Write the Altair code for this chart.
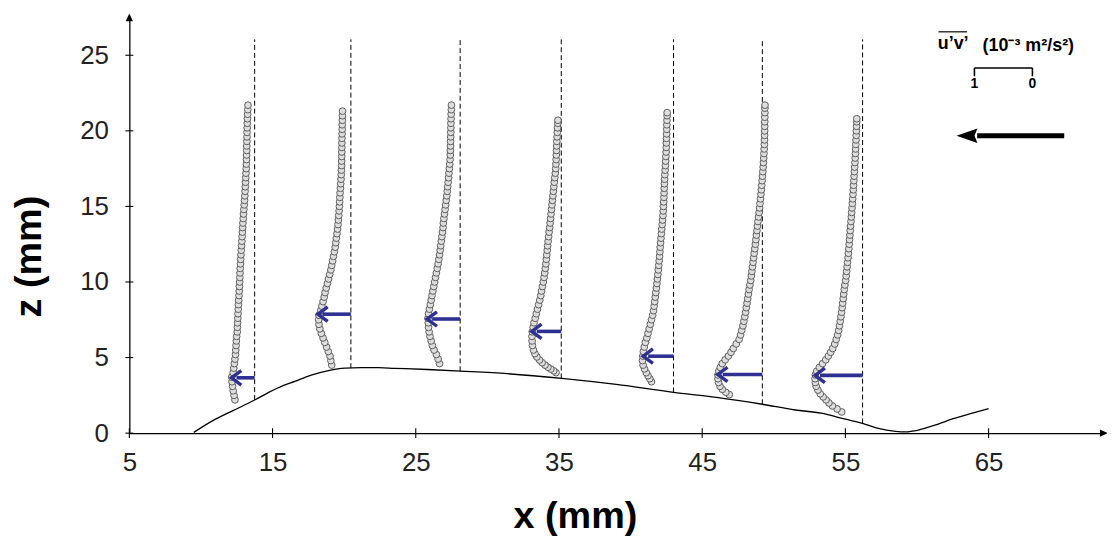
import altair as alt
import pandas as pd

# ---------------- data ----------------
STATIONS = [13.75, 20.47, 28.1, 35.16, 43.0, 49.2, 56.2]       # x of each profile (mm)
DASH_BOTTOM = [2.19, 4.30, 4.09, 3.62, 2.70, 1.91, 0.64]         # hill height at station (mm)
DASH_TOP = 26.05
SCALE = 4.05   # mm of x per 1e-3 m2/s2 of u'v'

# (z in mm, u'v' magnitude in 1e-3 m2/s2)
P1 = [(2.2,0.34),(2.5,0.355),(2.8,0.37),(3.1,0.38),(3.4,0.39),(3.7,0.395),(4.0,0.37),(4.3,0.36),
      (4.6,0.35),(4.9,0.34),(5.2,0.33),(5.5,0.325),(5.8,0.32),(6.1,0.315),(6.4,0.31),(6.7,0.30),
      (7.0,0.298),(7.3,0.295),(7.6,0.29),(7.9,0.287),(8.2,0.283),(8.5,0.28),(8.8,0.275),(9.1,0.27),
      (9.4,0.266),(9.7,0.262),(10.0,0.258),(10.3,0.255),(10.6,0.252),(10.9,0.249),(11.2,0.245),
      (11.5,0.241),(11.8,0.236),(12.1,0.231),(12.4,0.226),(12.7,0.221),(13.0,0.216),(13.3,0.211),
      (13.6,0.207),(13.9,0.202),(14.2,0.197),(14.5,0.192),(14.8,0.186),(15.1,0.18),(15.4,0.174),
      (15.7,0.169),(16.0,0.165),(16.3,0.161),(16.6,0.157),(16.9,0.153),(17.2,0.149),(17.5,0.145),
      (17.8,0.142),(18.1,0.140),(18.4,0.139),(18.7,0.137),(19.0,0.136),(19.3,0.134),(19.6,0.132),
      (19.9,0.131),(20.2,0.129),(20.5,0.127),(20.8,0.124),(21.1,0.121),(21.4,0.118),(21.7,0.115)]
P2 = [(4.5,0.33),(4.8,0.345),(5.1,0.36),(5.4,0.39),(5.7,0.42),(6.0,0.45),(6.3,0.48),(6.6,0.51),
      (6.9,0.535),(7.2,0.55),(7.5,0.555),(7.8,0.55),(8.1,0.52),(8.4,0.50),(8.7,0.48),(9.0,0.46),
      (9.3,0.445),(9.6,0.425),(9.9,0.405),(10.2,0.385),(10.5,0.365),(10.8,0.345),(11.1,0.33),
      (11.4,0.315),(11.7,0.30),(12.0,0.285),(12.3,0.27),(12.6,0.26),(12.9,0.25),(13.2,0.24),
      (13.5,0.23),(13.8,0.222),(14.1,0.215),(14.4,0.209),(14.7,0.203),(15.0,0.198),(15.3,0.194),
      (15.6,0.19),(15.9,0.186),(16.2,0.18),(16.5,0.175),(16.8,0.17),(17.1,0.166),(17.4,0.163),
      (17.7,0.16),(18.0,0.159),(18.3,0.158),(18.6,0.157),(18.9,0.156),(19.2,0.155),(19.5,0.154),
      (19.8,0.152),(20.1,0.15),(20.4,0.149),(20.7,0.147),(21.0,0.146),(21.3,0.144)]
P3 = [(4.6,0.355),(4.9,0.38),(5.2,0.41),(5.5,0.45),(5.8,0.48),(6.1,0.50),(6.4,0.52),(6.7,0.535),
      (7.0,0.545),(7.3,0.55),(7.6,0.555),(7.9,0.545),(8.2,0.53),(8.5,0.515),(8.8,0.50),(9.1,0.485),
      (9.4,0.47),(9.7,0.455),(10.0,0.44),(10.3,0.425),(10.6,0.41),(10.9,0.395),(11.2,0.38),
      (11.5,0.367),(11.8,0.355),(12.1,0.345),(12.4,0.335),(12.7,0.325),(13.0,0.315),(13.3,0.305),
      (13.6,0.295),(13.9,0.29),(14.2,0.28),(14.5,0.27),(14.8,0.26),(15.1,0.25),(15.4,0.24),
      (15.7,0.23),(16.0,0.222),(16.3,0.215),(16.6,0.207),(16.9,0.2),(17.2,0.193),(17.5,0.186),
      (17.8,0.18),(18.1,0.174),(18.4,0.17),(18.7,0.168),(19.0,0.166),(19.3,0.165),(19.6,0.163),
      (19.9,0.162),(20.2,0.16),(20.5,0.159),(20.8,0.157),(21.1,0.155),(21.4,0.152),(21.7,0.15)]
P4 = [(4.0,0.09),(4.12,0.13),(4.24,0.18),(4.36,0.23),(4.5,0.28),(4.66,0.33),(4.84,0.375),(5.04,0.42),
      (5.26,0.455),(5.5,0.48),(5.8,0.497),(6.1,0.503),(6.4,0.505),(6.7,0.50),(7.0,0.485),(7.3,0.47),
      (7.6,0.45),(7.9,0.43),(8.2,0.41),(8.5,0.39),(8.8,0.37),(9.1,0.353),(9.4,0.34),(9.7,0.325),
      (10.0,0.31),(10.3,0.297),(10.6,0.285),(10.9,0.275),(11.2,0.265),(11.5,0.257),(11.8,0.25),
      (12.1,0.242),(12.4,0.235),(12.7,0.227),(13.0,0.218),(13.3,0.21),(13.6,0.20),(13.9,0.192),
      (14.2,0.184),(14.5,0.176),(14.8,0.168),(15.1,0.16),(15.4,0.152),(15.7,0.144),(16.0,0.136),
      (16.3,0.128),(16.6,0.12),(16.9,0.112),(17.2,0.102),(17.5,0.096),(17.8,0.092),(18.1,0.088),
      (18.4,0.085),(18.7,0.082),(19.0,0.079),(19.3,0.076),(19.6,0.072),(19.9,0.068),(20.2,0.064),
      (20.5,0.06),(20.7,0.057)]
P5 = [(3.4,0.38),(3.6,0.41),(3.8,0.44),(4.0,0.47),(4.25,0.50),(4.5,0.525),(4.8,0.535),(5.1,0.53),
      (5.4,0.52),(5.7,0.505),(6.0,0.485),(6.3,0.46),(6.6,0.44),(6.9,0.42),(7.2,0.40),(7.5,0.38),
      (7.8,0.36),(8.1,0.345),(8.4,0.335),(8.7,0.325),(9.0,0.315),(9.3,0.305),(9.6,0.295),
      (9.9,0.286),(10.2,0.278),(10.5,0.27),(10.8,0.262),(11.1,0.255),(11.4,0.248),(11.7,0.241),
      (12.0,0.235),(12.3,0.23),(12.6,0.224),(12.9,0.217),(13.2,0.21),(13.5,0.203),(13.8,0.196),
      (14.1,0.189),(14.4,0.182),(14.7,0.178),(15.0,0.174),(15.3,0.17),(15.6,0.166),(15.9,0.163),
      (16.2,0.16),(16.5,0.157),(16.8,0.154),(17.1,0.15),(17.4,0.145),(17.7,0.14),(18.0,0.136),
      (18.3,0.132),(18.6,0.128),(18.9,0.125),(19.2,0.123),(19.5,0.121),(19.8,0.119),(20.1,0.117),
      (20.4,0.115),(20.7,0.113),(21.0,0.111),(21.2,0.11)]
P6 = [(2.55,0.57),(2.7,0.63),(2.9,0.69),(3.1,0.73),(3.35,0.755),(3.6,0.765),(3.85,0.765),(4.1,0.75),
      (4.35,0.725),(4.6,0.69),(4.85,0.64),(5.1,0.585),(5.35,0.54),(5.6,0.50),(5.9,0.45),(6.2,0.40),
      (6.5,0.375),(6.8,0.355),(7.1,0.335),(7.4,0.318),(7.7,0.302),(8.0,0.288),(8.3,0.276),
      (8.6,0.264),(8.9,0.252),(9.2,0.24),(9.5,0.228),(9.8,0.214),(10.1,0.20),(10.4,0.19),
      (10.7,0.18),(11.0,0.17),(11.3,0.16),(11.6,0.15),(11.9,0.14),(12.2,0.13),(12.5,0.12),
      (12.8,0.111),(13.1,0.102),(13.4,0.093),(13.7,0.085),(14.0,0.076),(14.3,0.066),(14.6,0.056),
      (14.9,0.048),(15.2,0.04),(15.5,0.032),(15.8,0.024),(16.1,0.016),(16.4,0.01),(16.7,0.004),
      (17.0,-0.002),(17.3,-0.008),(17.6,-0.014),(17.9,-0.019),(18.2,-0.024),(18.5,-0.028),
      (18.8,-0.032),(19.1,-0.035),(19.4,-0.037),(19.7,-0.039),(20.0,-0.04),(20.3,-0.041),
      (20.6,-0.042),(20.9,-0.043),(21.2,-0.044),(21.5,-0.045),(21.7,-0.046)]
P7 = [(1.4,0.36),(1.6,0.44),(1.8,0.52),(2.0,0.58),(2.2,0.63),(2.4,0.68),(2.6,0.73),(2.85,0.77),
      (3.1,0.80),(3.35,0.815),(3.6,0.82),(3.85,0.815),(4.1,0.79),(4.35,0.745),(4.6,0.69),
      (4.85,0.635),(5.1,0.59),(5.35,0.55),(5.6,0.515),(5.9,0.48),(6.2,0.455),(6.5,0.43),
      (6.8,0.412),(7.1,0.398),(7.4,0.385),(7.7,0.373),(8.0,0.362),(8.3,0.352),(8.6,0.343),
      (8.9,0.334),(9.2,0.325),(9.5,0.316),(9.8,0.305),(10.1,0.292),(10.4,0.283),(10.7,0.275),
      (11.0,0.267),(11.3,0.259),(11.6,0.251),(11.9,0.244),(12.2,0.237),(12.5,0.231),(12.8,0.225),
      (13.1,0.219),(13.4,0.213),(13.7,0.207),(14.0,0.2),(14.3,0.194),(14.6,0.188),(14.9,0.182),
      (15.2,0.176),(15.5,0.17),(15.8,0.165),(16.1,0.16),(16.4,0.155),(16.7,0.15),(17.0,0.146),
      (17.3,0.141),(17.6,0.136),(17.9,0.131),(18.2,0.127),(18.5,0.123),(18.8,0.12),(19.1,0.117),
      (19.4,0.113),(19.7,0.11),(20.0,0.107),(20.3,0.104),(20.6,0.101),(20.8,0.10)]
PROFILES = [P1, P2, P3, P4, P5, P6, P7]

# maximum of each profile (blue arrows)
ARROW_Z = [3.66, 7.87, 7.55, 6.73, 5.09, 3.88, 3.82]
ARROW_UV = [0.40, 0.57, 0.57, 0.51, 0.525, 0.77, 0.82]

# hill surface
HILL_X = [9.5, 10.8, 12.2, 13.75, 14.7, 15.4, 16.6, 17.7, 18.9, 20.05, 21.2, 22.4, 23.5, 25.8,
          28.15, 31.4, 35.2, 39.0, 43.0, 46.0, 49.2, 51.5, 53.3, 55.0, 56.2, 57.3, 58.5, 59.2,
          60.1, 61.25, 62.6, 64.0, 65.0]
HILL_Z = [0.05, 0.81, 1.47, 2.19, 2.68, 3.0, 3.44, 3.84, 4.14, 4.30, 4.33, 4.33, 4.29, 4.21,
          4.10, 3.93, 3.62, 3.22, 2.70, 2.37, 1.91, 1.53, 1.32, 0.92, 0.64, 0.31, 0.12, 0.08,
          0.2, 0.53, 0.97, 1.36, 1.62]

X_TICKS = [5, 15, 25, 35, 45, 55, 65]
Y_TICKS = [0, 5, 10, 15, 20, 25]

# ---------------- frames ----------------
pts = []
for i, prof in enumerate(PROFILES):
    for z, u in prof:
        pts.append({"x": STATIONS[i] - u * SCALE, "z": z, "p": i})
pts = pd.DataFrame(pts)

hill = pd.DataFrame({"x": HILL_X, "z": HILL_Z})
dash = pd.DataFrame({"x": STATIONS, "z": DASH_BOTTOM, "z2": [DASH_TOP] * len(STATIONS)})
arr = pd.DataFrame({
    "x": STATIONS,
    "x2": [s - u * SCALE + 0.35 for s, u in zip(STATIONS, ARROW_UV)],
    "tip": [s - u * SCALE for s, u in zip(STATIONS, ARROW_UV)],
    "z": ARROW_Z,
})
xt = pd.DataFrame({"x": X_TICKS, "z": [0.0] * len(X_TICKS)})
yt = pd.DataFrame({"x": [5.0] * len(Y_TICKS), "z": Y_TICKS})

FONT = "Liberation Sans"
XMAX = 72.92
YMAX = 27.57
XS = alt.Scale(domain=[5, XMAX], nice=False, zero=False)
YS = alt.Scale(domain=[0, YMAX], nice=False, zero=False)
XAX = alt.Axis(values=X_TICKS, title="x (mm)", grid=False, domainColor="black", domainWidth=1.3,
               ticks=False, labelFont=FONT, labelFontSize=26, labelColor="#222",
               labelPadding=17, titleFont=FONT, titleFontSize=38, titleFontWeight="bold",
               titleColor="black", titleX=448, titleY=84, titleAlign="center",
               titleBaseline="middle", labelFlush=False)
YAX = alt.Axis(values=Y_TICKS, title="z (mm)", grid=False, domainColor="black", domainWidth=1.3,
               ticks=False, labelFont=FONT, labelFontSize=26, labelColor="#222",
               labelPadding=21, titleFont=FONT, titleFontSize=38, titleFontWeight="bold",
               titleColor="black", titleAngle=270, titleX=-100, titleY=241, titleAlign="center",
               titleBaseline="middle", labelFlush=False)


def X(f="x"):
    return alt.X(f"{f}:Q", scale=XS, axis=XAX)


def Y(f="z"):
    return alt.Y(f"{f}:Q", scale=YS, axis=YAX)


hill_l = alt.Chart(hill).mark_line(color="black", strokeWidth=1.3, interpolate="monotone").encode(
    x=X(), y=Y())

dash_l = alt.Chart(dash).mark_rule(color="black", strokeWidth=1, strokeDash=[5, 3]).encode(
    x=X(), y=Y(), y2="z2:Q")

pts_l = alt.Chart(pts).mark_point(shape="circle", filled=True, size=46, fill="#dedede",
                                  stroke="#5e5e5e", strokeWidth=1, opacity=1).encode(
    x=X(), y=Y(), detail="p:N")

BLUE = "#2e3192"
shaft_l = alt.Chart(arr).mark_rule(color=BLUE, strokeWidth=3.6).encode(x=X(), x2="x2:Q", y=Y())
head_l = alt.Chart(arr).mark_point(shape="M1.5,-1.1L0,0L1.5,1.1", filled=False, stroke=BLUE,
                                   strokeWidth=3.4, size=175, opacity=1).encode(x=X("tip"), y=Y())

# crossing tick marks on the axes
xt_l = alt.Chart(xt).mark_point(shape="M0,-1L0,1", filled=False, stroke="black", strokeWidth=1.1,
                                size=100, opacity=1).encode(x=X(), y=Y())
yt_l = alt.Chart(yt).mark_point(shape="M-1,0L1,0", filled=False, stroke="black", strokeWidth=1.1,
                                size=64, opacity=1).encode(x=X(), y=Y())

# legend / annotations (data coordinates)
LEG_RIGHT = 68.06
LEG_Y = 24.16
leg_line = pd.DataFrame({"x": [LEG_RIGHT - SCALE, LEG_RIGHT - SCALE, LEG_RIGHT],
                         "x2": [LEG_RIGHT, LEG_RIGHT - SCALE, LEG_RIGHT],
                         "z": [LEG_Y, LEG_Y, LEG_Y], "z2": [LEG_Y, LEG_Y - 0.55, LEG_Y - 0.55]})
leg_l = alt.Chart(leg_line).mark_rule(color="black", strokeWidth=1.6).encode(
    x=X(), x2="x2:Q", y=Y(), y2="z2:Q")
leg_nums = pd.DataFrame({"x": [LEG_RIGHT - SCALE, LEG_RIGHT], "z": [23.1, 23.1], "t": ["1", "0"]})
leg_num_l = alt.Chart(leg_nums).mark_text(font=FONT, fontSize=14, fontWeight="bold",
                                          baseline="middle", color="black").encode(
    x=X(), y=Y(), text="t:N")

title_df = pd.DataFrame({"x": [61.45, 64.58], "z": [25.74, 25.6],
                         "t": ["u’v’", "(10⁻³ m²/s²)"]})
title_l = alt.Chart(title_df).mark_text(font=FONT, fontSize=18, fontWeight="bold", align="left",
                                        baseline="middle", color="black").encode(
    x=X(), y=Y(), text="t:N")
over_df = pd.DataFrame({"x": [61.5], "x2": [63.5], "z": [26.55]})
over_l = alt.Chart(over_df).mark_rule(color="black", strokeWidth=1.2).encode(
    x=X(), x2="x2:Q", y=Y())

flow_df = pd.DataFrame({"x": [70.28], "x2": [64.2], "z": [19.67]})
flow_l = alt.Chart(flow_df).mark_rule(color="black", strokeWidth=5).encode(x=X(), x2="x2:Q", y=Y())
flowhead_df = pd.DataFrame({"x": [62.76], "z": [19.67]})
flowhead_l = alt.Chart(flowhead_df).mark_point(shape="M0,0L2.9,-1L2.5,0L2.9,1Z", filled=True,
                                               fill="black", size=210, opacity=1, strokeWidth=0).encode(
    x=X(), y=Y())

# axis arrow heads
xhead = alt.Chart(pd.DataFrame({"x": [73.33], "z": [0.0]})).mark_point(
    shape="M0,0L-2,-0.9L-2,0.9Z", filled=True, fill="black", size=64, opacity=1, strokeWidth=0).encode(
    x=X(), y=Y())
yhead = alt.Chart(pd.DataFrame({"x": [5.0], "z": [27.77]})).mark_point(
    shape="M0,0L-0.9,2L0.9,2Z", filled=True, fill="black", size=64, opacity=1, strokeWidth=0).encode(
    x=X(), y=Y())

chart = alt.layer(hill_l, dash_l, pts_l, shaft_l, head_l, xt_l, yt_l, leg_l, leg_num_l, title_l,
                  over_l, flow_l, flowhead_l, xhead, yhead).properties(
    width=978, height=419,
    autosize=alt.AutoSizeParams(type="none"),
    padding={"left": 122, "top": 7, "right": 5, "bottom": 105},
    background="white",
).configure_view(stroke=None)

chart.save("out.html", embed_options={"renderer": "svg", "actions": False})
